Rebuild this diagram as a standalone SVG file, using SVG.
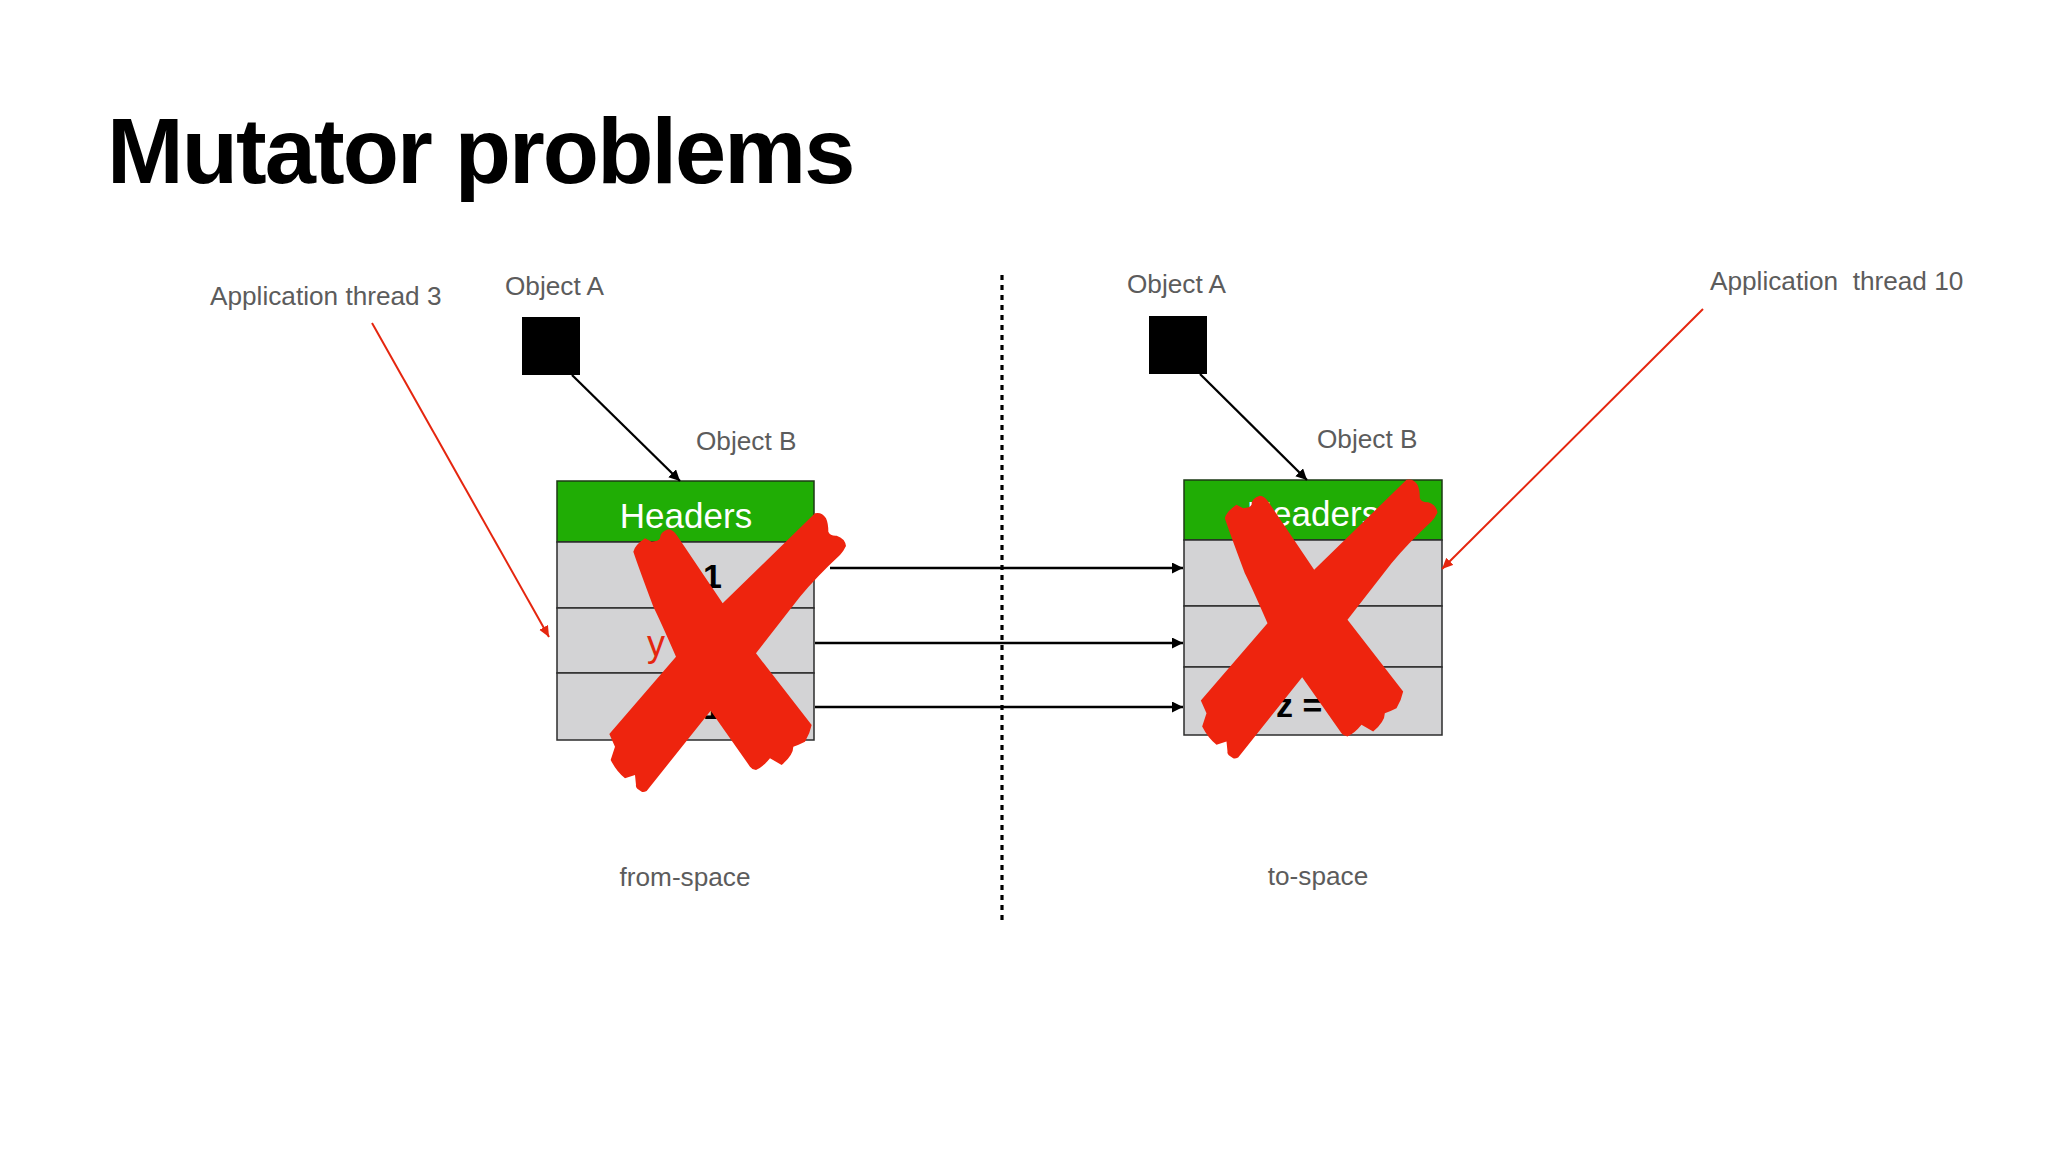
<svg xmlns="http://www.w3.org/2000/svg" xmlns:xlink="http://www.w3.org/1999/xlink" width="2048" height="1152" viewBox="0 0 2048 1152">
<style>
text{font-family:"Liberation Sans",Arial,sans-serif;white-space:pre}
.lbl{font-size:26.2px;fill:#5c5c5c}
.hdr{fill:#20ad05;stroke:#1c3a14;stroke-width:1.5}
.row{fill:#d3d3d5;stroke:#2c2c2c;stroke-width:1.5}
.ht{font-size:35px;fill:#fff;text-anchor:middle}
.val{font-size:34px;font-weight:bold;fill:#000}
.bk{stroke:#000;stroke-width:2.3;fill:none;marker-end:url(#ab)}
.rd{stroke:#e5260f;stroke-width:2;fill:none;marker-end:url(#ar)}
.x{fill:#ee240e}
</style>
<defs>
<marker id="ab" markerUnits="userSpaceOnUse" markerWidth="12" markerHeight="12" refX="11" refY="5.5" orient="auto"><path d="M0 0L11 5.5L0 11z" fill="#000"/></marker>
<marker id="ar" markerUnits="userSpaceOnUse" markerWidth="12" markerHeight="12" refX="11" refY="5" orient="auto"><path d="M0 0L11 5L0 10z" fill="#e5260f"/></marker>
<path id="cross" class="x" transform="translate(500 460) scale(.33333)" d="M400 275Q405 255 435 235L455 245Q475 245 480 235Q480 215 505 208Q520 210 530 225L668 430L945 160Q965 155 978 175Q985 190 985 215Q990 228 1010 227Q1035 235 1038 258Q1030 275 1020 285Q950 350 900 410L768 580L935 795Q930 820 915 845Q895 855 880 860Q880 885 845 915L810 895Q790 920 768 930Q755 928 750 920L632 752L440 993Q430 998 425 995Q405 985 408 975L405 945L375 955Q350 935 332 900L345 860L328 822L528 590Q480 480 460 440Q415 320 400 275z"/>
</defs>
<rect width="2048" height="1152" fill="#fff"/>
<text id="title" x="107" y="183" font-size="92" font-weight="bold" letter-spacing="-1.9" fill="#000">Mutator problems</text>
<text class="lbl" x="210" y="305">Application thread 3</text>
<text class="lbl" x="1710" y="290">Application  thread 10</text>
<g id="divider"><line x1="1002" y1="275" x2="1002" y2="922" stroke="#000" stroke-width="3.2" stroke-dasharray="5 5"/></g>
<g id="object-a-left"><text class="lbl" x="505" y="295">Object A</text><rect x="522" y="317" width="58" height="58" fill="#000"/></g>
<g id="object-a-right"><text class="lbl" x="1127" y="293">Object A</text><rect x="1149" y="316" width="58" height="58" fill="#000"/></g>
<g id="from-space">
<text class="lbl" x="696" y="450">Object B</text>
<rect class="hdr" x="557" y="481" width="257" height="61"/>
<rect class="row" x="557" y="542" width="257" height="66"/>
<rect class="row" x="557" y="608" width="257" height="65"/>
<rect class="row" x="557" y="673" width="257" height="67"/>
<text class="ht" x="686" y="528">Headers</text>
<text class="val" x="703" y="588">1</text>
<text x="647" y="656" font-size="36" fill="#e5260f">y</text>
<text class="val" x="703" y="719">1</text>
<text class="lbl" x="685" y="886" text-anchor="middle">from-space</text>
</g>
<g id="to-space">
<text class="lbl" x="1317" y="448">Object B</text>
<rect class="hdr" x="1184" y="480" width="258" height="60"/>
<rect class="row" x="1184" y="540" width="258" height="66"/>
<rect class="row" x="1184" y="606" width="258" height="61"/>
<rect class="row" x="1184" y="667" width="258" height="68"/>
<text class="ht" x="1313" y="526">Headers</text>
<text class="val" x="1276" y="717">z =</text>
<text class="lbl" x="1318" y="885" text-anchor="middle">to-space</text>
</g>
<g id="connectors">
<line class="bk" x1="572" y1="375" x2="680" y2="481"/>
<line class="bk" x1="1200" y1="374" x2="1307" y2="480"/>
<line class="bk" x1="830" y1="568" x2="1183" y2="568"/>
<line class="bk" x1="815" y1="643" x2="1183" y2="643"/>
<line class="bk" x1="815" y1="707" x2="1183" y2="707"/>
<line class="rd" x1="372" y1="323" x2="549" y2="637"/>
<line class="rd" x1="1703" y1="309" x2="1442" y2="569"/>
</g>
<g id="x-left"><use href="#cross"/></g>
<g id="x-right"><use href="#cross" transform="translate(591.5 -33.5)"/></g>
</svg>
